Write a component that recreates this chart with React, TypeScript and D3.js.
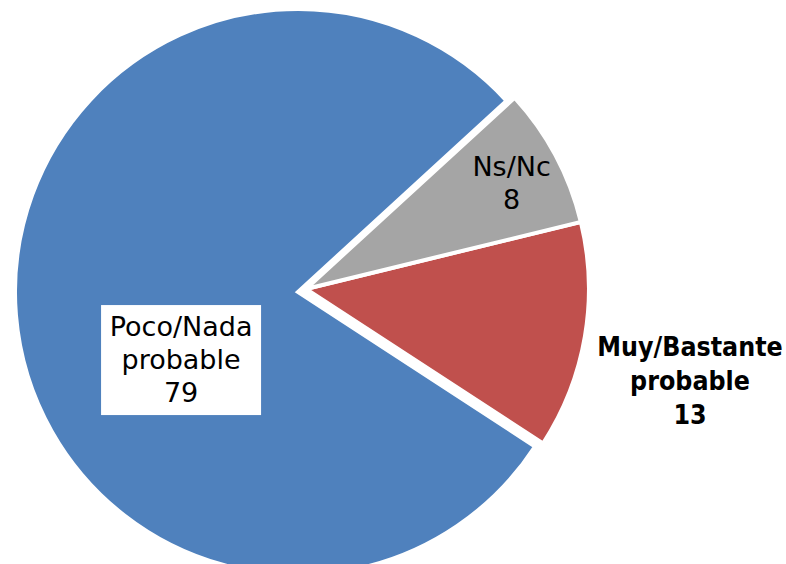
import React from "react";
import * as d3 from "d3";

const categories = ["Muy/Bastante probable", "Poco/Nada probable", "Ns/Nc"];
const values = [13, 79, 8];
const labelLines = [["Muy/Bastante", "probable", "13"], ["Poco/Nada", "probable", "79"], ["Ns/Nc", "8"]];
const colors = ["#C0504D", "#4F81BD", "#A5A5A5"];
const exploded = [true, false, true];

const W = 786;
const H = 564;
const CX = 298;
const CY = 292;
const R = 283;
const START_DEG = 76.3;
const EXPLODE_D = 8.5;
const EXPLODE_DEG = 69;
const rad = (d: number) => (d * Math.PI) / 180;

// label placement (angle clockwise from north in degrees, distance from pie center)
const labelPolar = [
  { ang: 102.8, dist: 402 },
  { ang: 239.8, dist: 135.3 },
  { ang: 63.1, dist: 239.5 },
];

export default function App() {
  const pie = d3
    .pie<number>()
    .sort(null)
    .startAngle(rad(START_DEG))
    .endAngle(rad(START_DEG + 360));
  const arcs = pie(values);
  const arc = d3.arc<d3.PieArcDatum<number>>().innerRadius(0).outerRadius(R);
  const ex = EXPLODE_D * Math.sin(rad(EXPLODE_DEG));
  const ey = -EXPLODE_D * Math.cos(rad(EXPLODE_DEG));
  const lineH = 33;

  return (
    <svg
      width={W}
      height={H}
      style={{ position: "absolute", left: 0, top: 0, display: "block" }}
    >
      <rect width={W} height={H} fill="#ffffff" />
      <g transform={`translate(${CX},${CY})`}>
        {arcs.map((a, i) => (
          <path
            key={categories[i]}
            d={arc(a) || ""}
            fill={colors[i]}
            stroke="#ffffff"
            strokeWidth={4}
            strokeLinejoin="miter"
            transform={exploded[i] ? `translate(${ex},${ey})` : undefined}
          />
        ))}
        {arcs.map((a, i) => {
          const p = labelPolar[i];
          const x = p.dist * Math.sin(rad(p.ang));
          const y = -p.dist * Math.cos(rad(p.ang));
          const lines = labelLines[i];
          const bold = i === 0;
          const n = lines.length;
          const lh = bold ? 34 : lineH;
          const firstBaseline = y - ((n - 1) * lh) / 2 + 9;
          return (
            <g key={"lbl" + i}>
              {i === 1 && (
                <rect x={x - 80} y={y - 55} width={160} height={110} fill="#ffffff" />
              )}
              <text
                textAnchor="middle"
                fill="#000000"
                style={{
                  fontFamily: bold ? "'DejaVu Sans Condensed', 'DejaVu Sans', sans-serif" : "'DejaVu Sans', sans-serif",
                  fontStretch: bold ? "condensed" : "normal",
                  fontWeight: bold ? 700 : 400,
                  fontSize: bold ? 26.5 : 27,
                }}
              >
                {lines.map((t, j) => (
                  <tspan key={j} x={x} y={firstBaseline + j * lh}>
                    {t}
                  </tspan>
                ))}
              </text>
            </g>
          );
        })}
      </g>
    </svg>
  );
}
